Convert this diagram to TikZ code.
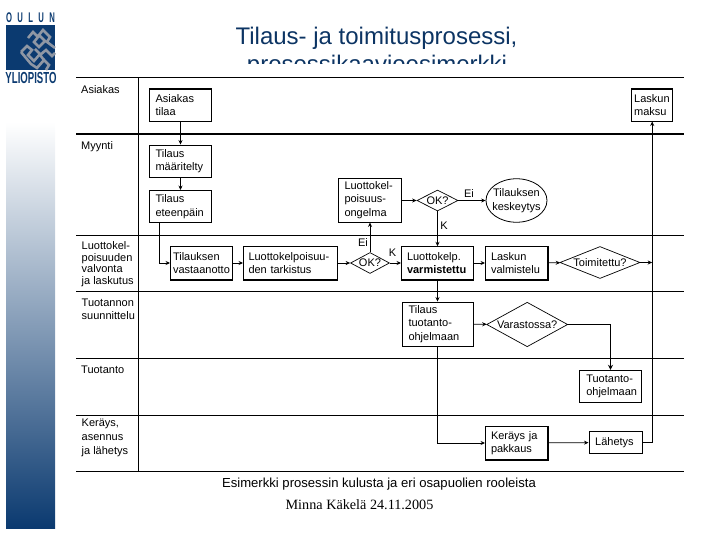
\documentclass[tikz,border=0pt]{standalone}
\usepackage{fontspec}
\setmainfont{Liberation Sans}
\newfontfamily\footfont{Liberation Serif}
\usetikzlibrary{shapes.geometric,arrows.meta,calc}
\definecolor{navyblue}{HTML}{0B3A70}
\definecolor{titleblue}{HTML}{0C3463}
\definecolor{meander}{HTML}{8F97A4}
\definecolor{midgrey}{HTML}{AEB1BE}
\tikzset{
    lane/.style={line width=0.9pt},
    lanelabel/.style={anchor=north west,align=left,inner sep=0pt,font=\fontsize{11}{13.6}\selectfont},
    procbox/.style={draw,line width=0.9pt,anchor=center,inner xsep=6pt,inner ysep=0pt,text width=#1,align=left,
        font=\fontsize{11}{13.4}\selectfont},
    decbox/.style={draw,diamond,line width=0.7pt,inner sep=-9pt,font=\fontsize{11}{13}\selectfont},
    stopbox/.style={draw,ellipse,line width=0.8pt,inner sep=-9pt,align=center,font=\fontsize{11}{13.4}\selectfont},
    flow/.style={line width=0.7pt,-{Stealth[length=4.5pt,width=4pt]}},
    heavy/.style={line width=1.7pt},
    branch/.style={inner sep=0pt,font=\fontsize{11}{12}\selectfont},
}
\begin{document}
\begin{tikzpicture}[x=1pt,y=-1pt]
    \useasboundingbox (0,0) rectangle (720,540);

    % Logo and side bar
    \node[inner sep=0pt,text=navyblue,xscale=0.55,font=\bfseries\fontsize{14}{14}\selectfont] (oulun) at (30.5,17.5) {O\hspace{9.8pt}U\hspace{9.8pt}L\hspace{9.8pt}U\hspace{9.8pt}N};
    \fill[navyblue] (6,25) rectangle (55,70);
    \draw[meander,line width=2.6pt,line join=miter]
        (28,38) -- (33,32) -- (38,37) -- (34,42) -- (39,47) -- (45,41) -- (39,35) -- (43,30) -- (50,37) -- (47,42) -- (55,48);
    \draw[meander,line width=2.6pt,line join=miter]
        (21,52) -- (27,46) -- (32,50) -- (28,55) -- (34,61) -- (40,54) -- (35,49);
    \draw[meander,line width=2.6pt,line join=miter]
        (21,52) -- (26,58) -- (31,64) -- (37,68) -- (44,60) -- (49,65) -- (46,70);
    \draw[meander,line width=2.6pt,line join=miter]
        (44,60) -- (40,55) -- (46,50) -- (52,56) -- (55,53);
    \node[inner sep=0pt,text=navyblue,xscale=0.6,font=\bfseries\fontsize{16}{16}\selectfont] (yliopisto) at (31,78) {YLIOPISTO};
    \shade[top color=white,middle color=midgrey,bottom color=navyblue] (6,122) rectangle (55,528);

    % Title, its second line is cut off by the chart
    \node[anchor=base,inner sep=0pt,text=titleblue,font=\fontsize{24}{24}\selectfont] (title) at (376.5,45) {Tilaus- ja toimitusprosessi,};
    \node[anchor=base,inner sep=0pt,text=titleblue,font=\fontsize{24}{24}\selectfont] (subtitle) at (377,73) {prosessikaavioesimerkki};
    \fill[white] (60,64.5) rectangle (720,82);

    % Lanes
    \draw[lane] (76,77.5) -- (684,77.5);
    \draw[line width=1.8pt] (76,134) -- (684,134);
    \draw[lane] (76,235.5) -- (684,235.5);
    \draw[lane] (76,291.5) -- (684,291.5);
    \draw[lane] (76,358.5) -- (684,358.5);
    \draw[lane] (76,415.5) -- (684,415.5);
    \draw[lane] (76,471.5) -- (684,471.5);
    \draw[lane] (138.5,77.5) -- (138.5,471.5);

    \node[lanelabel] (asiakaslane) at (81,85) {Asiakas};
    \node[lanelabel] (myyntilane) at (81,141) {Myynti};
    \node[lanelabel,font=\fontsize{11}{11.5}\selectfont] (luottolane) at (81.5,241.5) {Luottokel-\\poisuuden\\valvonta\\ja laskutus};
    \node[lanelabel,font=\fontsize{11}{13}\selectfont] (suunnittelulane) at (81.5,299) {Tuotannon\\suunnittelu};
    \node[lanelabel] (tuotantolane) at (81,366) {Tuotanto};
    \node[lanelabel,font=\fontsize{11}{14}\selectfont] (lahetyslane) at (81.5,419) {Keräys,\\asennus\\ja lähetys};

    % Boxes
    \node[procbox=50pt,minimum height=32pt] (asiakas) at (180.5,105) {Asiakas\\tilaa};
    \node[procbox=50pt,minimum height=32pt] (maaritelty) at (180.5,161) {Tilaus\\määritelty};
    \node[procbox=50pt,minimum height=32pt] (eteenpain) at (180.5,206.5) {Tilaus\\eteenpäin};
    \node[procbox=57pt,minimum height=32.5pt,inner xsep=2.5pt] (vastaanotto) at (201.5,263) {Tilauksen\\vastaanotto};
    \node[procbox=84pt,minimum height=32.5pt,inner xsep=5pt] (tarkistus) at (290.5,263) {Luottokelpoisuu-\\den tarkistus};
    \node[procbox=50pt,minimum height=44pt,inner xsep=6.5pt] (ongelma) at (369.5,200) {Luottokel-\\poisuus-\\ongelma};
    \node[decbox,minimum width=41pt,minimum height=21pt] (oka) at (437.5,200.5) {OK?};
    \node[stopbox,minimum width=61pt,minimum height=43.5pt] (keskeytys) at (516.5,200.5) {Tilauksen\\keskeytys};
    \node[decbox,minimum width=39pt,minimum height=21pt] (okb) at (370,263) {OK?};
    \node[procbox=61pt,minimum height=32.5pt,inner xsep=5.5pt] (varmistettu) at (437.5,263) {Luottokelp.\\\textbf{varmistettu}};
    \node[procbox=51pt,minimum height=32.5pt,inner xsep=5.5pt] (valmistelu) at (516.5,263) {Laskun\\valmistelu};
    \node[decbox,minimum width=80pt,minimum height=32pt] (toimitettu) at (600,262.5) {Toimitettu?};
    \node[procbox=36pt,minimum height=32pt,inner xsep=2.5pt] (maksu) at (652.2,105) {Laskun\\maksu};
    \node[procbox=58pt,minimum height=44pt,inner xsep=6.5pt] (tuotanto) at (437.5,324) {Tilaus\\tuotanto-\\ohjelmaan};
    \node[decbox,minimum width=81pt,minimum height=44.5pt] (varastossa) at (527.2,324.5) {Varastossa?};
    \node[procbox=48.4pt,minimum height=32.5pt,inner xsep=7pt] (ohjelmaan) at (610.5,386.5) {Tuotanto-\\ohjelmaan};
    \node[procbox=51pt,minimum height=33pt,inner xsep=5.5pt] (kerays) at (516.5,443) {Keräys ja\\pakkaus};
    \node[procbox=41pt,minimum height=21.5pt,inner xsep=6pt,line width=1.4pt] (lahetys) at (615.7,442.5) {Lähetys};

    % Heavier edges of some boxes
    \draw[heavy] (asiakas.north west) -- (asiakas.north east);
    \draw[heavy] (maksu.north west) -- (maksu.north east);
    \draw[heavy] (vastaanotto.south west) -- (vastaanotto.south east);
    \draw[heavy] (tarkistus.south west) -- (tarkistus.south east);
    \draw[heavy] (varmistettu.south west) -- (varmistettu.south east);
    \draw[heavy] (valmistelu.south west) -- (valmistelu.south east) -- (valmistelu.north east);
    \draw[heavy] (kerays.south west) -- (kerays.south east) -- (kerays.north east);

    % Connectors
    \coordinate (eteenpainout) at ($(eteenpain.south west)+(10,0)$);
    \coordinate (varastokulma) at (varastossa.east -| ohjelmaan.north);
    \draw[flow] (asiakas) -- (maaritelty);
    \draw[flow] (maaritelty) -- (eteenpain);
    \draw[flow] (eteenpainout) |- (vastaanotto);
    \draw[flow] (vastaanotto) -- (tarkistus);
    \draw[flow] (tarkistus) -- (okb);
    \draw[flow] (okb) -- (varmistettu);
    \draw[flow] (okb) -- (okb |- ongelma.south);
    \draw[flow] (ongelma.east |- oka) -- (oka);
    \draw[flow] (oka) -- (keskeytys);
    \draw[flow] (oka) -- (varmistettu);
    \draw[flow] (varmistettu) -- (valmistelu);
    \draw[flow] (valmistelu) -- (toimitettu);
    \draw[flow] (toimitettu) -- (toimitettu -| maksu.south);
    \draw[flow] (varmistettu) -- (tuotanto);
    \draw[flow] (tuotanto) -- (varastossa);
    \draw[line width=0.7pt] (varastossa) -- (varastokulma);
    \draw[flow,line width=1.6pt,-{Stealth[length=5pt,width=5pt]}] (varastokulma) -- (ohjelmaan);
    \draw[flow] (tuotanto) |- (kerays);
    \draw[flow] (kerays) -- (lahetys);
    \draw[flow] (lahetys) -| (maksu);

    % Branch labels
    \node[branch] (eitop) at (469,193.5) {Ei};
    \node[branch] (ktop) at (444,226) {K};
    \node[branch] (eilow) at (363,243) {Ei};
    \node[branch] (klow) at (392.5,253) {K};

    % Captions
    \node[anchor=base,inner sep=0pt,font=\fontsize{13.1}{14}\selectfont] (caption) at (379,487.5) {Esimerkki prosessin kulusta ja eri osapuolien rooleista};
    \node[anchor=base,inner sep=0pt,font=\footfont\fontsize{14.2}{16}\selectfont] (author) at (359.5,509) {Minna Käkelä 24.11.2005};
\end{tikzpicture}
\end{document}
